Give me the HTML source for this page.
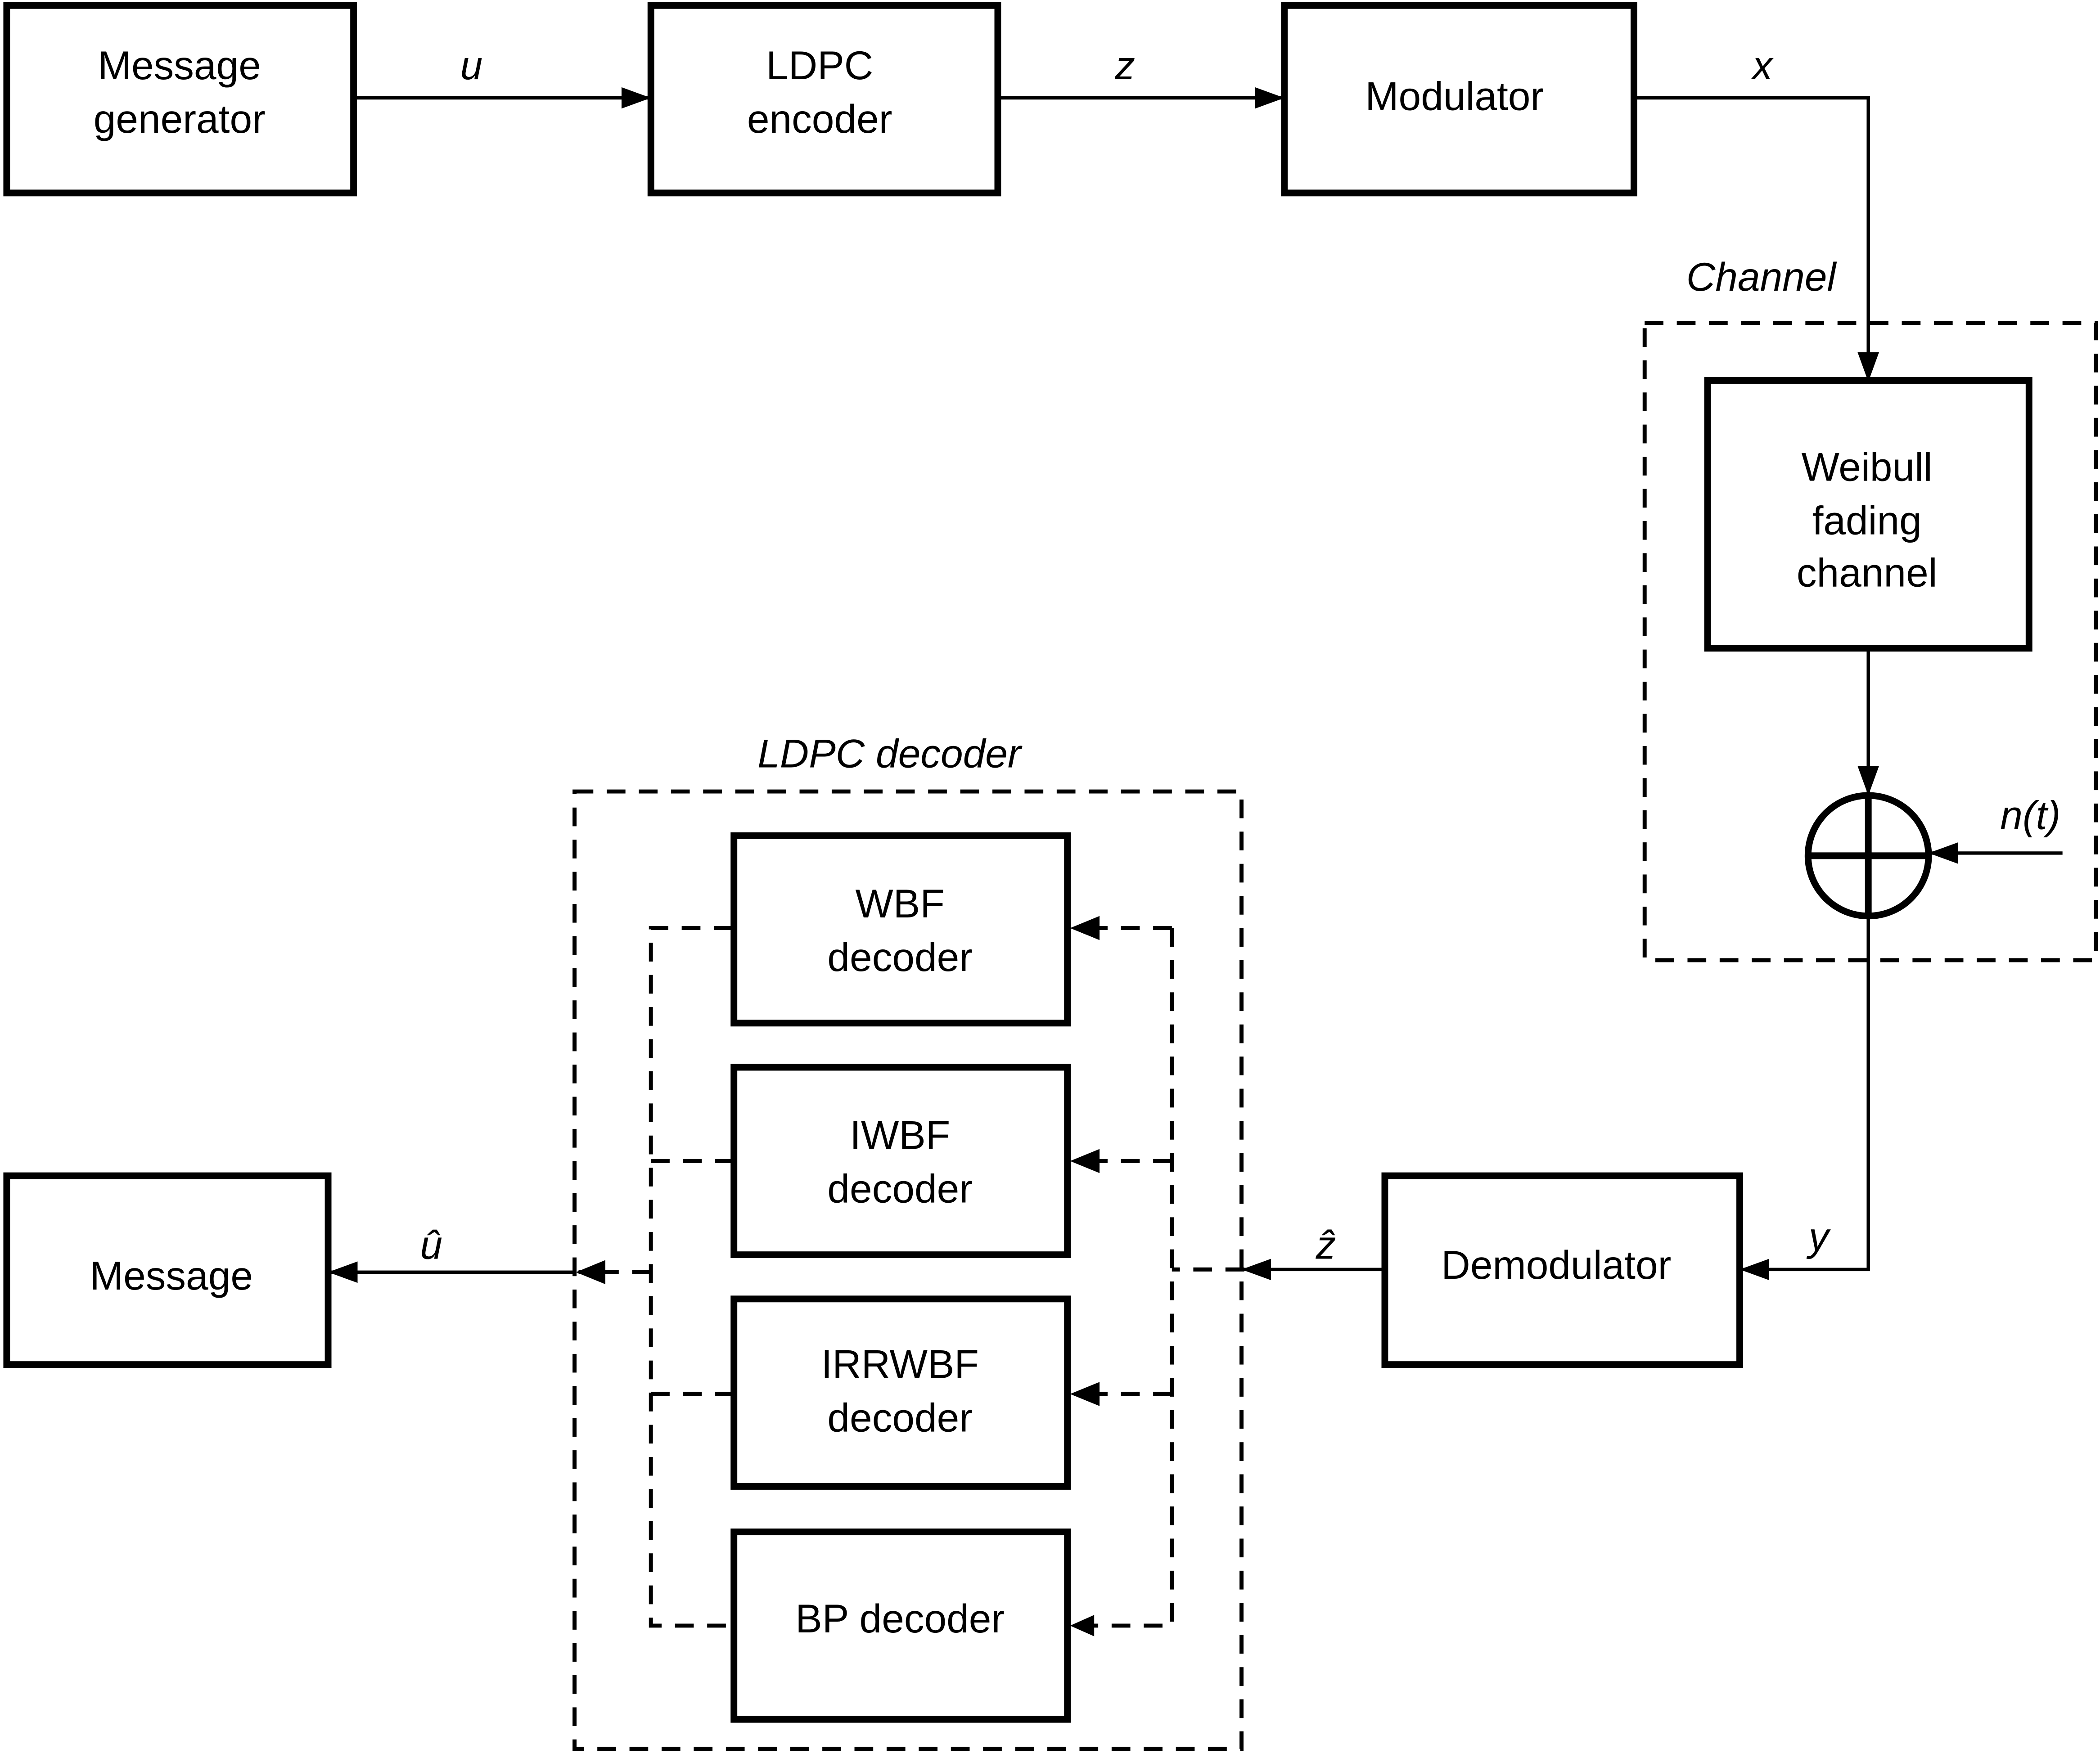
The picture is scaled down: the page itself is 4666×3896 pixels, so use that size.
<!DOCTYPE html>
<html><head><style>html,body{margin:0;padding:0;background:#fff}svg{display:block}</style></head>
<body>
<svg width="4666" height="3896" viewBox="0 0 1568 1309" xmlns="http://www.w3.org/2000/svg" font-family="Liberation Sans, Arial, sans-serif" font-size="30">
<defs>
<marker id="a" markerWidth="22" markerHeight="16" refX="20" refY="8" orient="auto" markerUnits="userSpaceOnUse"><path d="M0,0 L22,8 L0,16 Z" fill="#000"/></marker>
</defs>
<rect width="1568" height="1309" fill="#fff"/>
<g fill="none" stroke="#000" stroke-width="5">
<rect x="5" y="4" width="259" height="140"/>
<rect x="486" y="4" width="259" height="140"/>
<rect x="959" y="4" width="261" height="140"/>
<rect x="1275" y="284" width="240" height="200"/>
<rect x="1034" y="878" width="265" height="141"/>
<rect x="5" y="878" width="240" height="141"/>
<rect x="548" y="624" width="249" height="140"/>
<rect x="548" y="797" width="249" height="140"/>
<rect x="548" y="970" width="249" height="140"/>
<rect x="548" y="1144" width="249" height="140"/>
<circle cx="1395" cy="639" r="45"/>
<line x1="1350" y1="639" x2="1440" y2="639"/>
<line x1="1395" y1="594" x2="1395" y2="684"/>
</g>
<g fill="none" stroke="#000" stroke-width="2.5">
<line x1="264" y1="73" x2="484" y2="73" marker-end="url(#a)"/>
<line x1="745" y1="73" x2="957" y2="73" marker-end="url(#a)"/>
<polyline points="1220,73 1395,73 1395,283" marker-end="url(#a)"/>
<line x1="1395" y1="484" x2="1395" y2="592" marker-end="url(#a)"/>
<line x1="1540" y1="637" x2="1442" y2="637" marker-end="url(#a)"/>
<polyline points="1395,684 1395,948 1301,948" marker-end="url(#a)"/>
<line x1="1034" y1="948" x2="929" y2="948" marker-end="url(#a)"/>
<line x1="430" y1="950" x2="247" y2="950" marker-end="url(#a)"/>
</g>
<g fill="none" stroke="#000" stroke-width="3" stroke-dasharray="14,10">
<rect x="1228" y="241" width="337" height="476"/>
<rect x="429" y="591" width="498" height="715"/>
<polyline points="547,693 486,693 486,1214 547,1214"/>
<line x1="486" y1="867" x2="547" y2="867"/>
<line x1="486" y1="1041" x2="547" y2="1041"/>
<line x1="486" y1="950" x2="432" y2="950"/>
<polyline points="875,693 875,1214 799,1214"/>
<line x1="875" y1="693" x2="810" y2="693"/>
<line x1="875" y1="867" x2="810" y2="867"/>
<line x1="875" y1="1041" x2="810" y2="1041"/>
<line x1="929" y1="948" x2="875" y2="948"/>
</g>
<g fill="#000">
<path d="M799,693 L821,684 L821,702 Z"/>
<path d="M799,867 L821,858 L821,876 Z"/>
<path d="M799,1041 L821,1032 L821,1050 Z"/>
<path d="M799,1214 L817,1206 L817,1222 Z"/>
<path d="M430,950 L452,941 L452,959 Z"/>
</g>
<g text-anchor="middle" fill="#000">
<text x="134" y="59">Message</text>
<text x="134" y="99">generator</text>
<text x="612" y="59">LDPC</text>
<text x="612" y="99">encoder</text>
<text x="1086" y="82">Modulator</text>
<text x="1394" y="359">Weibull</text>
<text x="1394" y="399">fading</text>
<text x="1394" y="438">channel</text>
<text x="1162" y="955">Demodulator</text>
<text x="128" y="963">Message</text>
<text x="672" y="685">WBF</text>
<text x="672" y="725">decoder</text>
<text x="672" y="858">IWBF</text>
<text x="672" y="898">decoder</text>
<text x="672" y="1029">IRRWBF</text>
<text x="672" y="1069">decoder</text>
<text x="672" y="1219">BP decoder</text>
<g font-style="italic">
<text x="352" y="59">u</text>
<text x="840" y="59">z</text>
<text x="1316" y="59">x</text>
<text x="1315" y="217">Channel</text>
<text x="664" y="573">LDPC decoder</text>
<text x="1516" y="619">n(t)</text>
<text x="1358" y="934">y</text>
<text x="990" y="940">ẑ</text>
<text x="322" y="940">û</text>
</g>
</g>
</svg>
</body></html>
